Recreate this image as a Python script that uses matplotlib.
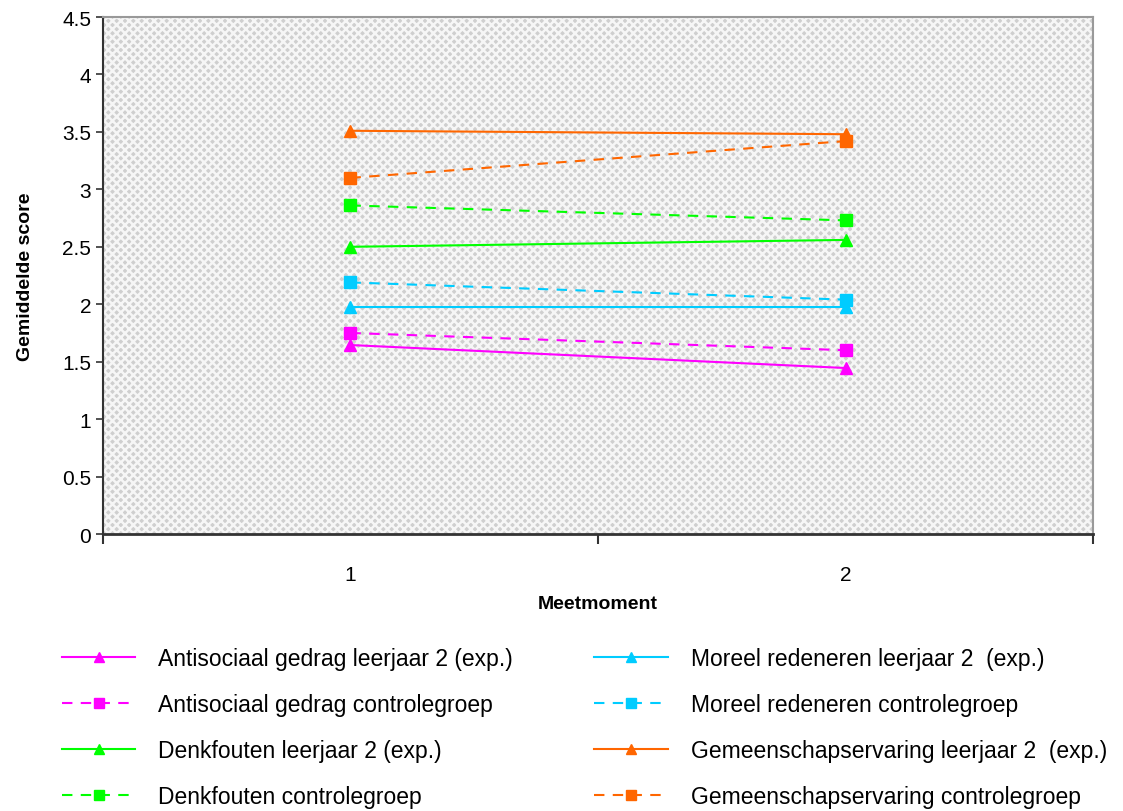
import numpy as np
import matplotlib.pyplot as plt
from matplotlib.patches import Rectangle

plt.rcParams['font.family'] = ['Liberation Sans', 'DejaVu Sans']
plt.rcParams['hatch.linewidth'] = 1.8

# data
meetmoment = [1, 2]
reeksen = ['Antisociaal gedrag leerjaar 2 (exp.)',
           'Antisociaal gedrag controlegroep',
           'Denkfouten leerjaar 2 (exp.)',
           'Denkfouten controlegroep',
           'Moreel redeneren leerjaar 2  (exp.)',
           'Moreel redeneren controlegroep',
           'Gemeenschapservaring leerjaar 2  (exp.)',
           'Gemeenschapservaring controlegroep']
antisociaal_exp = [1.645, 1.445]
antisociaal_con = [1.75, 1.60]
denkfouten_exp = [2.50, 2.56]
denkfouten_con = [2.86, 2.73]
moreel_exp = [1.98, 1.98]
moreel_con = [2.19, 2.04]
gemeenschap_exp = [3.51, 3.48]
gemeenschap_con = [3.10, 3.42]

waarden = [antisociaal_exp, antisociaal_con, denkfouten_exp, denkfouten_con,
           moreel_exp, moreel_con, gemeenschap_exp, gemeenschap_con]
kleuren = ['#FF00FF', '#FF00FF', '#00FF00', '#00FF00',
           '#00CCFF', '#00CCFF', '#FF6600', '#FF6600']

fig = plt.figure(figsize=(11.23, 8.12), dpi=100)
ax = fig.add_axes([0.0917, 0.3411, 0.8816, 0.6367])

# achtergrond met arcering
ax.set_facecolor('white')
ax.add_patch(Rectangle((0, 0), 1, 1, transform=ax.transAxes, facecolor='#cfcfcf',
                       edgecolor='#f6f6f6', hatch='xxxx', lw=0, zorder=0))

for i in range(len(reeksen)):
    exp = i % 2 == 0
    ax.plot(meetmoment, waarden[i], color=kleuren[i],
            linestyle='-' if exp else (0, (5, 4)),
            marker='^' if exp else 's', markersize=8, lw=1.5,
            label=reeksen[i], zorder=3)

ax.set_xlim(0.5, 2.5)
ax.set_ylim(0, 4.5)
ax.set_yticks(np.arange(0, 4.51, 0.5))
ax.set_yticklabels(['0', '0.5', '1', '1.5', '2', '2.5', '3', '3.5', '4', '4.5'], fontsize=15)
ax.set_xticks(meetmoment)
ax.set_xticklabels(['1', '2'], fontsize=15)
ax.tick_params(axis='x', which='major', length=0, pad=22)
ax.set_xticks([0.5, 1.5, 2.5], minor=True)
ax.tick_params(axis='x', which='minor', length=7, width=1.5, color='#333333')
ax.tick_params(axis='y', length=5, width=1.2, color='#333333')

for s in ['top', 'right']:
    ax.spines[s].set_color('#999999')
    ax.spines[s].set_linewidth(1.5)
ax.spines['left'].set_color('#333333')
ax.spines['bottom'].set_color('#333333')
ax.spines['left'].set_linewidth(1.5)
ax.spines['bottom'].set_linewidth(2)

ax.set_xlabel('Meetmoment', fontsize=14, fontweight='bold', labelpad=8)
ax.set_ylabel('Gemiddelde score', fontsize=14, fontweight='bold', labelpad=20)

handles, labels = ax.get_legend_handles_labels()
leg = fig.legend(handles, labels, loc='upper left', bbox_to_anchor=(0.0552, 0.202),
                 ncol=2, frameon=False, fontsize=16.5, handlelength=3.2,
                 handletextpad=1.0, labelspacing=1.0, columnspacing=3.55,
                 borderpad=0, borderaxespad=0)
for h in leg.legend_handles:
    h.set_markersize(7)

plt.savefig('out.png', dpi=100)
